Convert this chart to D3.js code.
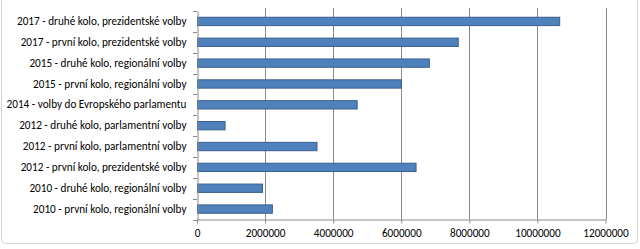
<!DOCTYPE html>
<html><head><meta charset="utf-8">
<script src="https://cdn.jsdelivr.net/npm/d3@7"></script>
<style>
html,body{margin:0;padding:0;background:#fff;}
svg{display:block;}
</style></head>
<body>
<svg id="chart" width="640" height="249"></svg>
<script>
const categories = [
  "2017 - druhé kolo, prezidentské volby",
  "2017 - první kolo, prezidentské volby",
  "2015 - druhé kolo, regionální volby",
  "2015 - první kolo, regionální volby",
  "2014 - volby do Evropského parlamentu",
  "2012 - druhé kolo, parlamentní volby",
  "2012 - první kolo, parlamentní volby",
  "2012 - první kolo, prezidentské volby",
  "2010 - druhé kolo, regionální volby",
  "2010 - první kolo, regionální volby"
];
const values = [10640000, 7660000, 6810000, 5990000, 4690000, 810000, 3510000, 6420000, 1910000, 2200000];
const xTicks = [0, 2000000, 4000000, 6000000, 8000000, 10000000, 12000000];

(function(){
const svg = d3.select("#chart");
const font = "Carlito, 'Open Sans', 'Noto Sans', sans-serif";

svg.append("rect").attr("x",1.5).attr("y",-4).attr("width",636).attr("height",247.5)
  .attr("rx",4).attr("fill","none").attr("stroke","#d4d4d4").attr("stroke-width",1);

const pl = 197, pr = 605.5, pt = 11, pb = 219.5;
const x = d3.scaleLinear().domain([0, 12000000]).range([pl, pr]);
const y = d3.scaleBand().domain(categories).range([pt, pb]).paddingInner(0.6).paddingOuter(0.3);
const yb = d3.scaleBand().domain(categories).range([pt, pb]);

svg.append("g").selectAll("line").data(xTicks.slice(1)).join("line")
  .attr("x1", d=>Math.round(x(d))+0.5).attr("x2", d=>Math.round(x(d))+0.5)
  .attr("y1", 8).attr("y2", pb)
  .attr("stroke","#8a8a8a").attr("stroke-width",1);

svg.append("g").selectAll("rect").data(values).join("rect")
  .attr("x", x(0)+0.5)
  .attr("y", (d,i)=>y(categories[i]))
  .attr("width", d=>x(d)-x(0))
  .attr("height", y.bandwidth())
  .attr("fill","#4f81bd").attr("stroke","#3a5f8c").attr("stroke-width",1);

const yAxis = d3.axisLeft(yb).tickSize(0).tickPadding(11);
const gy = svg.append("g").attr("transform",`translate(${pl+0.5},0)`).call(yAxis);
gy.select(".domain").attr("stroke","#8a8a8a");
gy.selectAll("text").attr("font-family",font).attr("font-size","11.2px").attr("fill","#000");
svg.append("g").selectAll("line").data(d3.range(categories.length+1)).join("line")
  .attr("x1", pl-4).attr("x2", pl)
  .attr("y1", i=>Math.round(pt + i*yb.step())+0.5).attr("y2", i=>Math.round(pt + i*yb.step())+0.5)
  .attr("stroke","#8a8a8a");

const xAxis = d3.axisBottom(x).tickValues(xTicks).tickFormat(d3.format("d")).tickSize(4).tickPadding(6);
const gx = svg.append("g").attr("transform",`translate(0,${pb})`).call(xAxis);
gx.select(".domain").remove();
gx.selectAll(".tick line").attr("stroke","#8a8a8a");
gx.selectAll("text").attr("font-family",font).attr("font-size","11.2px").attr("fill","#000");
svg.append("line").attr("x1",pl).attr("x2",pr+0.5).attr("y1",pb+0.5).attr("y2",pb+0.5).attr("stroke","#8a8a8a");
})();
</script>
</body></html>
